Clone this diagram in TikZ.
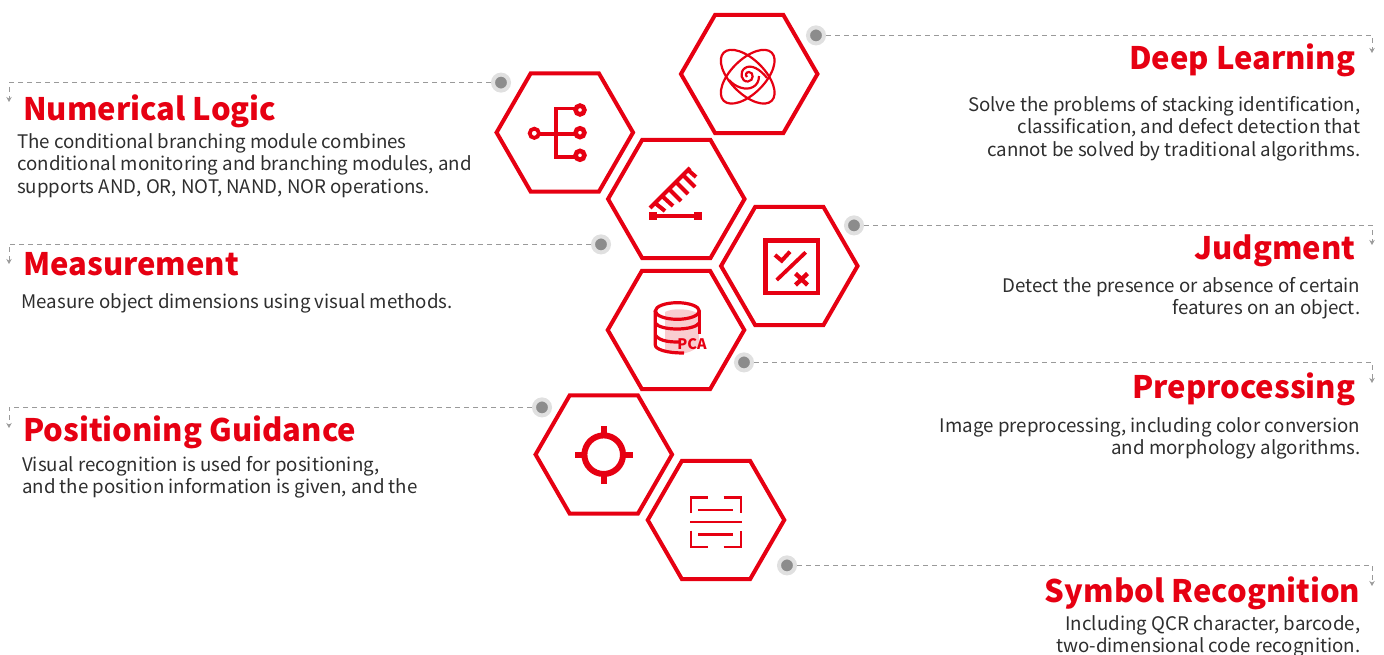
\documentclass[tikz,border=0pt]{standalone}
\usepackage{fontspec}
\setmainfont{Noto Sans CJK SC}
\usetikzlibrary{shapes.geometric,arrows.meta}
\definecolor{brandred}{HTML}{E60012}
\definecolor{bodytext}{HTML}{2E2E2E}
\definecolor{dotgray}{HTML}{8C8C8C}
\definecolor{dotring}{HTML}{E0E0E0}
\definecolor{dashgray}{HTML}{9A9A9A}
\definecolor{pinkfill}{HTML}{F9CDD0}
\tikzset{
  hexa/.style={regular polygon,regular polygon sides=6,draw=brandred,line width=4pt,minimum size=136.5pt,inner sep=0pt,outer sep=0pt},
  dotmark/.style={circle,fill=dotgray,draw=dotring,line width=4pt,minimum size=16pt,inner sep=0pt},
  conn/.style={draw=dashgray,line width=1pt,dash pattern=on 5pt off 4pt,-{Stealth[length=5pt,width=5.5pt,fill=dashgray]}},
  headL/.style={anchor=base west,inner sep=0pt,text=brandred,font=\fontsize{31}{36}\selectfont\bfseries},
  headR/.style={anchor=base east,inner sep=0pt,text=brandred,font=\fontsize{31}{36}\selectfont\bfseries},
  bodyL/.style={anchor=north west,inner sep=0pt,align=left,text=bodytext,font=\fontsize{18.7}{22.6}\selectfont},
  bodyR/.style={anchor=north east,inner sep=0pt,align=right,text=bodytext,font=\fontsize{18.7}{22.6}\selectfont},
  icon/.style={draw=brandred,line width=#1},
  icon/.default=3pt
}
\begin{document}
\begin{tikzpicture}[x=1pt,y=-1pt]
\useasboundingbox (0,0) rectangle (1384,655);
% hexagons
\node[hexa] (hdeep) at (749.2,74) {};
\node[hexa] (hnum) at (564.8,132.5) {};
\node[hexa] (hmeas) at (676.3,199) {};
\node[hexa] (hjudge) at (789.3,266) {};
\node[hexa] (hpre) at (676,330) {};
\node[hexa] (hpos) at (603.8,454.5) {};
\node[hexa] (hsym) at (716,520) {};
% dots and connectors
\node[dotmark] (ddeep) at (816,35.4) {};
\node[dotmark] (dnum) at (501,82.6) {};
\node[dotmark] (dmeas) at (601,244.4) {};
\node[dotmark] (djudge) at (854,225.4) {};
\node[dotmark] (dpre) at (744,362.4) {};
\node[dotmark] (dpos) at (542,407.4) {};
\node[dotmark] (dsym) at (787,565.4) {};
\coordinate (edeep) at (1372,53);
\coordinate (enum) at (9,102);
\coordinate (emeas) at (9,264);
\coordinate (ejudge) at (1372,245);
\coordinate (epre) at (1372,383);
\coordinate (epos) at (9,428);
\coordinate (esym) at (1372,586);
\draw[conn] (ddeep) -| (edeep);
\draw[conn] (dnum) -| (enum);
\draw[conn] (dmeas) -| (emeas);
\draw[conn] (djudge) -| (ejudge);
\draw[conn] (dpre) -| (epre);
\draw[conn] (dpos) -| (epos);
\draw[conn] (dsym) -| (esym);
% headings
\node[headR] (tdeep) at (1355.5,69.5) {Deep Learning};
\node[headL] (tnum) at (23,120.5) {Numerical Logic};
\node[headL] (tmeas) at (23,275.5) {Measurement};
\node[headR] (tjudge) at (1355.5,259.5) {Judgment};
\node[headR] (tpre) at (1355.5,398.5) {Preprocessing};
\node[headL] (tpos) at (23,441.5) {Positioning Guidance};
\node[headR] (tsym) at (1360.5,602.5) {Symbol Recognition};
% body
\node[bodyR] (bdeep) at (1360.5,96) {Solve the problems of stacking identification,\\classification, and defect detection that\\cannot be solved by traditional algorithms.};
\node[bodyL] (bnum) at (17,133) {The conditional branching module combines\\conditional monitoring and branching modules, and\\supports AND, OR, NOT, NAND, NOR operations.};
\node[bodyL] (bmeas) at (21.5,293) {Measure object dimensions using visual methods.};
\node[bodyR] (bjudge) at (1360.5,277) {Detect the presence or absence of certain\\features on an object.};
\node[bodyR] (bpre) at (1360.5,417) {Image preprocessing, including color conversion\\and morphology algorithms.};
\node[bodyL] (bpos) at (22,456) {Visual recognition is used for positioning,\\and the position information is given, and the};
\node[bodyR] (bsym) at (1360.5,615) {Including QCR character, barcode,\\two-dimensional code recognition.};
% atom icon
\begin{scope}[icon=2.2pt]
\draw[rotate around={45:(747.7,76.7)}] (747.7,76.7) ellipse [x radius=34,y radius=17];
\draw[rotate around={-45:(747.7,76.7)}] (747.7,76.7) ellipse [x radius=34,y radius=17];
\draw (767,78) .. controls (760,69) and (751,64) .. (745,68) .. controls (739,72) and (741,82) .. (748,81.5) .. controls (754,81) and (754,72) .. (749,72) .. controls (746,72) and (745,75) .. (747,77);
\draw (729,80) .. controls (735,87) and (746,91) .. (753,87) .. controls (757,85) and (759,81) .. (759,76);
\end{scope}
% branch icon
\begin{scope}[icon=3.8pt]
\draw (575.5,108.5) -- (556,108.5) -- (556,157) -- (575,157);
\draw (539,134) -- (575,134);
\draw[line width=4.6pt] (580,110) circle (4.4);
\draw[line width=4.6pt] (580,132.7) circle (4.4);
\draw[line width=4.6pt] (580,155.3) circle (4.4);
\draw[line width=3.8pt] (534.3,133.3) circle (4.6);
\end{scope}
% ruler icon
\begin{scope}[icon=4pt]
\draw (650,208) -- (690,168);
\draw (655,203) -- (665,211);
\draw (662,196) -- (673,206);
\draw (669,189) -- (681,201);
\draw (676,182) -- (688,194);
\draw (683,175) -- (695,187);
\draw (688,170) -- (696,177);
\draw[line width=3.8pt] (655,216.3) -- (695,216.3);
\fill[brandred] (648.5,212) rectangle (656.5,220.5);
\fill[brandred] (693.5,212) rectangle (701.5,220.5);
\end{scope}
% judgment icon
\begin{scope}[icon=3.8pt]
\draw[line width=4.6pt] (765.5,240.5) rectangle (818,293);
\draw (776.7,280) -- (805.7,252.3);
\draw[line width=4pt] (775,255) -- (781.7,260.7) -- (790,251.7);
\draw[line width=4.4pt] (795.5,273.5) -- (807.5,285);
\draw[line width=4.4pt] (807.5,273.5) -- (795.5,285);
\end{scope}
% database icon
\fill[pinkfill] (665,312) .. controls (672,308) and (690,308) .. (699,314) -- (699,346) .. controls (690,355) and (672,356) .. (665,352) -- cycle;
\begin{scope}[icon=3.2pt]
\draw (677.3,311) ellipse [x radius=22,y radius=8.3];
\draw (655.3,311) -- (655.3,345) .. controls (655.3,349) and (665,353) .. (684,353);
\draw (699.3,311) -- (699.3,334);
\draw (655.3,323) .. controls (660,331) and (694,331) .. (699.3,323);
\draw (655.3,335) .. controls (660,342) and (672,342) .. (680,342);
\end{scope}
\node[anchor=center,inner sep=0pt,text=brandred,font=\fontsize{14.5}{16}\selectfont\bfseries] (pca) at (692,344.5) {PCA};
% target icon
\begin{scope}[icon=6pt]
\draw (603.7,454.7) circle (19.3);
\end{scope}
\fill[brandred] (600.5,425.7) rectangle (606.9,433);
\fill[brandred] (600.5,476.4) rectangle (606.9,483.7);
\fill[brandred] (574.7,451.5) rectangle (582,457.9);
\fill[brandred] (625.4,451.5) rectangle (632.7,457.9);
% scan icon
\begin{scope}[icon=2.6pt]
\draw (691,513) -- (691,497.5) -- (707.5,497.5);
\draw (723.5,497.5) -- (741,497.5) -- (741,513);
\draw (691,530.5) -- (691,547) -- (707.5,547);
\draw (723.5,547) -- (741,547) -- (741,530.5);
\draw (698.3,510) -- (733.3,510);
\draw (690,522) -- (741.7,522);
\draw (698.3,534.5) -- (733.3,534.5);
\end{scope}
\end{tikzpicture}
\end{document}
